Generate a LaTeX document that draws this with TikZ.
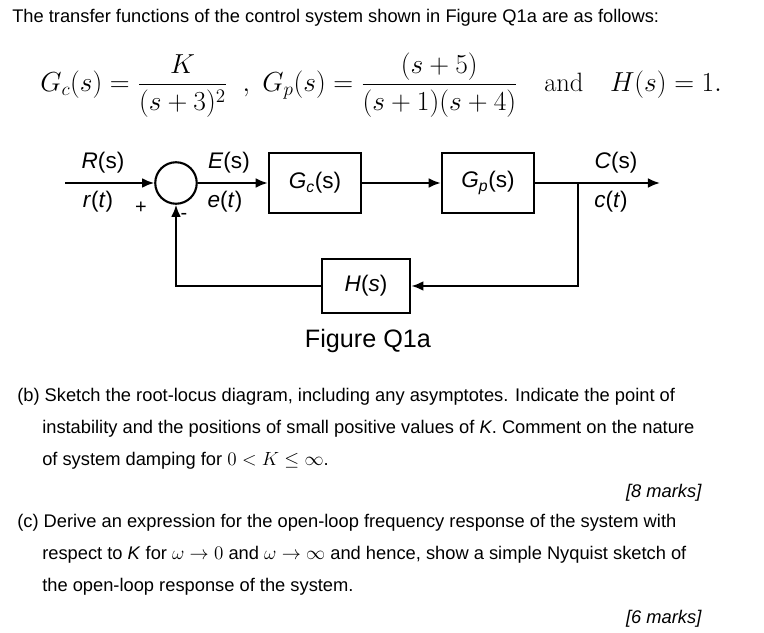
\documentclass[tikz,border=0pt]{standalone}
\usepackage{amsmath}
\usepackage{fontspec}
\setmainfont{Liberation Sans}
\usetikzlibrary{positioning,arrows.meta}
\begin{document}
\begin{tikzpicture}[x=0.0265cm,y=-0.0265cm,
    block/.style={draw, line width=1.6pt, minimum width=2.45cm, minimum height=1.6cm, font=\fontsize{17}{20}\selectfont},
    sig/.style={font=\fontsize{17}{20}\selectfont, inner sep=0pt},
    txt/.style={anchor=west, font=\fontsize{13.8}{16}\selectfont, inner sep=0pt},
    flow/.style={line width=1.5pt, -{Latex[length=3.2mm,width=2.6mm]}}]
\useasboundingbox (0,0) rectangle (764,633);
% question text
\node[txt] (intro) at (12,18) {The transfer functions of the control system shown in Figure Q1a are as follows:};
\node[anchor=west, inner sep=0pt, font=\fontsize{20}{24}\selectfont] (tf) at (40,85)
  {$G_c(s)=\dfrac{K}{(s+3)^2}\;\;,\; G_p(s)=\dfrac{(s+5)}{(s+1)(s+4)}\quad \text{\fontfamily{lmr}\selectfont and}\quad H(s)=1.$};

% block diagram
\node[draw, circle, line width=1.6pt, minimum size=1.1cm, inner sep=0pt] (sum) at (176,183) {};
\node[block] (gc) at (315,183) {$\mathit{G_c}$(s)};
\node[block] (gp) at (488,183) {$\mathit{G_p}$(s)};
\node[block, minimum width=2.35cm, minimum height=1.45cm] (h) at (366,286) {\textit{H}(\textit{s})};
\coordinate (in) at (65,183);
\coordinate (out) at (660,183);
\coordinate (branch) at (578,183);
\coordinate (corner) at (578,286);
\coordinate (back) at (sum |- h);
\draw[flow] (in) -- (sum);
\draw[flow] (sum) -- (gc);
\draw[flow] (gc) -- (gp);
\draw[flow] (gp) -- (out);
\draw[flow] (branch) -- (corner) -- (h);
\draw[flow] (h) -- (back) -- (sum);

\node[sig] (R) at (103,163) {\textit{R}(s)};
\node[sig] (r) at (98,202) {\textit{r}(\textit{t})};
\node[sig, font=\fontsize{15}{17}\selectfont] (plus) at (141,208) {+};
\node[sig, font=\fontsize{15}{17}\selectfont] (minus) at (184,216) {-};
\node[sig] (E) at (229,163) {\textit{E}(s)};
\node[sig] (e) at (225,202) {\textit{e}(\textit{t})};
\node[sig] (C) at (616,163) {\textit{C}(s)};
\node[sig] (c) at (611,202) {\textit{c}(\textit{t})};
\node[sig, font=\fontsize{19}{22}\selectfont] (fig) at (368,341) {Figure Q1a};

% parts (b) and (c)
\node[txt] (b1) at (17,397) {(b) Sketch the root-locus diagram, including any asymptotes. Indicate the point of};
\node[txt] (b2) at (42,429) {instability and the positions of small positive values of \textit{K}. Comment on the nature};
\node[txt] (b3) at (42,461) {of system damping for $0<K\le\infty$.};
\node[txt, anchor=east] (m8) at (702,493) {\textit{[8 marks]}};
\node[txt] (c1) at (17,523) {(c) Derive an expression for the open-loop frequency response of the system with};
\node[txt] (c2) at (42,555) {respect to \textit{K} for $\omega\to 0$ and $\omega\to\infty$ and hence, show a simple Nyquist sketch of};
\node[txt] (c3) at (42,587) {the open-loop response of the system.};
\node[txt, anchor=east] (m6) at (702,619) {\textit{[6 marks]}};
\end{tikzpicture}
\end{document}
